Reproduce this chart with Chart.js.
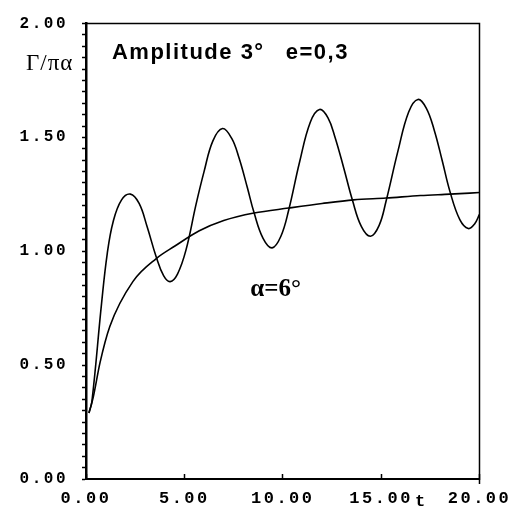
<!DOCTYPE html>
<html>
<head>
<meta charset="utf-8">
<script src="https://cdn.jsdelivr.net/npm/chart.js@4.4.1/dist/chart.umd.min.js"></script>
<style>
  html, body { margin: 0; padding: 0; background: #fff; }
  #wrap { width: 520px; height: 510px; }
</style>
</head>
<body>
<div id="wrap"><canvas id="chart" width="520" height="510"></canvas></div>
<script>
// oscillating response (peaks, troughs, crossings and flanks)
const oscT = [0.15, 0.3, 0.79, 1.08, 1.38, 1.8, 2.26, 2.7, 3.1, 3.57, 3.95, 4.28, 4.65, 5.08, 5.59, 6.0, 6.45, 6.94, 7.4, 7.78, 8.2, 8.54, 9.0, 9.46, 9.9, 10.3, 10.85, 11.4, 11.87, 12.3, 12.66, 13.1, 13.54, 14.0, 14.46, 14.9, 15.25, 15.86, 16.4, 16.87, 17.3, 17.7, 18.1, 18.5, 19.0, 19.43, 19.75, 20];
const oscV = [0.29, 0.34, 0.77, 0.99, 1.13, 1.225, 1.251, 1.21, 1.11, 0.975, 0.892, 0.867, 0.90, 1.005, 1.205, 1.35, 1.485, 1.539, 1.497, 1.41, 1.28, 1.17, 1.057, 1.015, 1.065, 1.18, 1.39, 1.567, 1.623, 1.586, 1.50, 1.366, 1.225, 1.108, 1.066, 1.114, 1.22, 1.442, 1.612, 1.667, 1.628, 1.532, 1.40, 1.262, 1.139, 1.10, 1.12, 1.162];

// steady (alpha = 6 deg) curve
const steadyT = [0.15, 0.37, 0.71, 1.21, 2.39, 3.57, 4.5, 5.76, 7, 8.54, 10.3, 12, 13.6, 15.25, 17, 18.5, 20];
const steadyV = [0.29, 0.36, 0.51, 0.67, 0.868, 0.968, 1.022, 1.09, 1.135, 1.168, 1.19, 1.21, 1.226, 1.234, 1.245, 1.251, 1.258];

const xTicks = [0, 5, 10, 15, 20];
const yLabels = [0, 0.5, 1, 1.5, 2];

const toPoints = (ts, vs) => ts.map((t, i) => ({ x: t, y: vs[i] }));
const monoFont = { family: '"Liberation Mono", "Courier New", monospace', weight: 'bold' };

// frame + text annotations
const extrasPlugin = {
    id: 'extras',
    beforeDraw: (chart) => {
        chart.ctx.letterSpacing = '2.5px';
    },
    afterDraw: (chart) => {
        const { ctx, chartArea, scales } = chart;
        ctx.save();
        ctx.strokeStyle = '#000';
        ctx.lineWidth = 1.5;
        ctx.beginPath();
        ctx.moveTo(chartArea.left, chartArea.top);
        ctx.lineTo(chartArea.right, chartArea.top);
        ctx.lineTo(chartArea.right, chartArea.bottom + 5);
        ctx.stroke();

        ctx.fillStyle = '#000';
        ctx.textBaseline = 'alphabetic';
        ctx.textAlign = 'left';

        ctx.letterSpacing = '1.5px';
        ctx.font = 'bold 22px "Liberation Sans", Arial, sans-serif';
        ctx.fillText('Amplitude 3°', scales.x.getPixelForValue(1.32), scales.y.getPixelForValue(1.845));
        ctx.fillText('e=0,3', scales.x.getPixelForValue(10.15), scales.y.getPixelForValue(1.845));

        ctx.letterSpacing = '1px';
        ctx.font = '23px "Liberation Serif", "Times New Roman", serif';
        ctx.fillText('Γ/πα', 26, scales.y.getPixelForValue(1.795));

        ctx.letterSpacing = '0px';
        ctx.font = 'bold 25px "Liberation Serif", "Times New Roman", serif';
        ctx.fillText('α=6°', scales.x.getPixelForValue(8.35), scales.y.getPixelForValue(0.805));

        ctx.font = 'bold 17px "Liberation Mono", "Courier New", monospace';
        ctx.fillText('t', 415, 506);
        ctx.restore();
    }
};

new Chart(document.getElementById('chart').getContext('2d'), {
    type: 'line',
    data: {
        datasets: [
            {
                data: toPoints(oscT, oscV),
                borderColor: '#000',
                borderWidth: 1.6,
                pointRadius: 0,
                tension: 0.4,
                fill: false
            },
            {
                data: toPoints(steadyT, steadyV),
                borderColor: '#000',
                borderWidth: 1.6,
                pointRadius: 0,
                cubicInterpolationMode: 'monotone',
                fill: false
            }
        ]
    },
    options: {
        responsive: false,
        animation: false,
        layout: { padding: { left: 0, top: 16, right: 38, bottom: 0 } },
        plugins: {
            legend: { display: false },
            tooltip: { enabled: false }
        },
        scales: {
            x: {
                type: 'linear',
                min: 0,
                max: 20,
                afterFit: (s) => { s.height = 31; },
                afterBuildTicks: (s) => { s.ticks = xTicks.map(v => ({ value: v })); },
                border: { color: '#000', width: 2 },
                grid: { drawOnChartArea: false, color: '#000', tickLength: -5, tickWidth: 1.5 },
                ticks: {
                    color: '#000',
                    font: { ...monoFont, size: 17 },
                    padding: 15,
                    maxRotation: 0,
                    autoSkip: false,
                    callback: (v) => Number(v).toFixed(2)
                }
            },
            y: {
                type: 'linear',
                min: 0,
                max: 2,
                afterFit: (s) => { s.width = 86; },
                afterBuildTicks: (s) => {
                    const t = [];
                    for (let i = 0; i <= 40; i++) t.push({ value: i * 0.05 });
                    s.ticks = t;
                },
                border: { color: '#000', width: 2.5 },
                grid: { drawOnChartArea: false, color: '#000', tickLength: 4, tickWidth: 1.5 },
                ticks: {
                    color: '#000',
                    font: { ...monoFont, size: 16 },
                    padding: 14,
                    autoSkip: false,
                    callback: (v) => yLabels.some(l => Math.abs(l - v) < 1e-6) ? Number(v).toFixed(2) : ''
                }
            }
        }
    },
    plugins: [extrasPlugin]
});
</script>
</body>
</html>
